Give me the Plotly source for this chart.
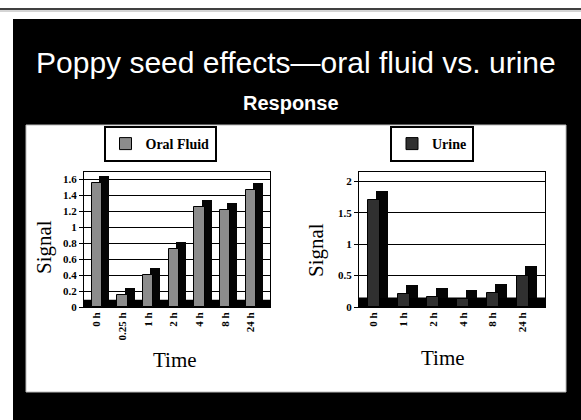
import plotly.graph_objects as go

# ---- data ----
oral_times = ["0 h", "0.25 h", "1 h", "2 h", "4 h", "8 h", "24 h"]
oral_signal = [1.55, 0.15, 0.40, 0.72, 1.25, 1.21, 1.46]
urine_times = ["0 h", "1 h", "2 h", "4 h", "8 h", "24 h"]
urine_signal = [1.70, 0.20, 0.16, 0.12, 0.22, 0.50]
oral_ticks = [0, 0.2, 0.4, 0.6, 0.8, 1, 1.2, 1.4, 1.6]
urine_ticks = [0, 0.5, 1, 1.5, 2]

W, H = 581, 426
K = 420 / H
def px(x): return x / W
def py(y): return 1 - (y / K) / H

serif = "Liberation Serif, Times New Roman, serif"
oral_depth = 0.09
urine_depth = 0.15

fig = go.Figure()

fig.add_trace(go.Bar(x=oral_times, y=oral_signal, base=[oral_depth] * len(oral_signal),
                     width=0.4, offset=0.08, marker=dict(color="#050505", line=dict(width=0)),
                     showlegend=False, hoverinfo="skip", xaxis="x", yaxis="y"))
fig.add_trace(go.Bar(x=oral_times, y=oral_signal, name="Oral Fluid",
                     width=0.4, offset=-0.2,
                     marker=dict(color="#8c8c8c", line=dict(color="#000", width=1)),
                     xaxis="x", yaxis="y", legend="legend"))
fig.add_trace(go.Bar(x=urine_times, y=urine_signal, base=[urine_depth] * len(urine_signal),
                     width=0.4, offset=0.08, marker=dict(color="#050505", line=dict(width=0)),
                     showlegend=False, hoverinfo="skip", xaxis="x2", yaxis="y2"))
fig.add_trace(go.Bar(x=urine_times, y=urine_signal, name="Urine",
                     width=0.4, offset=-0.2,
                     marker=dict(color="#303030", line=dict(color="#000", width=1)),
                     xaxis="x2", yaxis="y2", legend="legend2"))

tickfont = dict(family=serif, size=11, color="#000", weight="bold")
common_x = dict(type="category", showgrid=False, showline=True, linecolor="#000", linewidth=1,
                mirror=True, ticks="", tickangle=-90, tickfont=tickfont, fixedrange=True)
common_y = dict(showgrid=True, gridcolor="#000", gridwidth=1, showline=True, linecolor="#000",
                linewidth=1, mirror=True, ticks="outside", ticklen=4, tickcolor="#000",
                tickfont=tickfont, zeroline=False, fixedrange=True)

legfont = dict(family=serif, size=14, color="#000", weight="bold")
fig.update_layout(
    width=W, height=H, margin=dict(l=0, r=0, t=0, b=0),
    paper_bgcolor="white", plot_bgcolor="rgba(0,0,0,0)",
    barmode="overlay", bargap=0,
    xaxis=dict(common_x, domain=[px(84), px(270)], range=[-0.5, 6.75], anchor="y"),
    yaxis=dict(common_y, domain=[py(307), py(172)], range=[0, 1.6 + oral_depth],
               tickvals=oral_ticks, ticktext=[f"{t:g}" for t in oral_ticks], anchor="x"),
    xaxis2=dict(common_x, domain=[px(359), px(545)], range=[-0.5, 5.75], anchor="y2"),
    yaxis2=dict(common_y, domain=[py(307), py(172)], range=[0, 2 + urine_depth],
                tickvals=urine_ticks, ticktext=[f"{t:g}" for t in urine_ticks], anchor="x2"),
    legend=dict(x=px(160), y=py(144), xanchor="center", yanchor="middle",
                bgcolor="white", bordercolor="#000", borderwidth=2, font=legfont,
                itemwidth=30, tracegroupgap=0),
    legend2=dict(x=px(432), y=py(144), xanchor="center", yanchor="middle",
                 bgcolor="white", bordercolor="#000", borderwidth=2, font=legfont,
                 itemwidth=30, tracegroupgap=0),
    showlegend=True,
)

shapes = [
    dict(type="line", xref="paper", yref="paper", x0=0, x1=1, y0=py(9), y1=py(9),
         line=dict(color="#000", width=1.5), layer="below"),
    dict(type="line", xref="paper", yref="paper", x0=0, x1=1, y0=py(11), y1=py(11),
         line=dict(color="#aaa", width=1), layer="below"),
    dict(type="rect", xref="paper", yref="paper", x0=px(13), x1=1, y0=0, y1=py(19),
         fillcolor="#000", line=dict(width=0), layer="below"),
    dict(type="rect", xref="paper", yref="paper", x0=px(26), x1=px(566), y0=py(392), y1=py(125),
         fillcolor="#fff", line=dict(color="#bbb", width=1), layer="below"),
    dict(type="rect", xref="x", yref="y", x0=-0.5, x1=6.75, y0=0, y1=oral_depth,
         fillcolor="#000", line=dict(width=0), layer="below"),
    dict(type="rect", xref="x2", yref="y2", x0=-0.5, x1=5.75, y0=0, y1=urine_depth,
         fillcolor="#000", line=dict(width=0), layer="below"),
]
fig.update_layout(shapes=shapes)

ann = [
    dict(text="Poppy seed effects\u2014oral fluid vs. urine", x=px(296), y=py(62),
         font=dict(family="Liberation Sans, Arial, sans-serif", size=30, color="#fff")),
    dict(text="Response", x=px(291), y=py(103),
         font=dict(family="Liberation Sans, Arial, sans-serif", size=20, color="#fff", weight="bold")),
    dict(text="Signal", x=px(44), y=py(247), textangle=-90,
         font=dict(family=serif, size=21, color="#000")),
    dict(text="Signal", x=px(316), y=py(250), textangle=-90,
         font=dict(family=serif, size=21, color="#000")),
    dict(text="Time", x=px(175), y=py(360), font=dict(family=serif, size=21, color="#000")),
    dict(text="Time", x=px(443), y=py(358), font=dict(family=serif, size=21, color="#000")),
]
for a in ann:
    a.update(xref="paper", yref="paper", showarrow=False, xanchor="center", yanchor="middle")
fig.update_layout(annotations=ann)

fig.write_html("out.html", config={"displayModeBar": False},
               post_script="document.body.style.margin='0';document.body.style.overflow='hidden';")
